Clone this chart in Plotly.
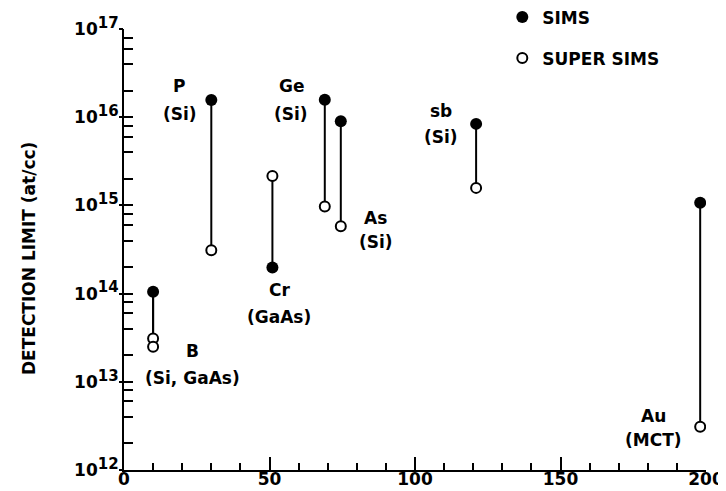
import math
import plotly.graph_objects as go

# ---- data ----
elements = ["B", "P", "Cr", "Ge", "As", "Sb", "Au"]
mass = [10, 30, 51, 69, 74.5, 121, 198]
sims = [1.05e14, 1.57e16, 1.98e14, 1.58e16, 9.0e15, 8.4e15, 1.07e15]

super_mass = [10, 10, 30, 51, 69, 74.5, 121, 198]
super_sims = [3.1e13, 2.5e13, 3.1e14, 2.15e15, 9.7e14, 5.8e14, 1.58e15, 3.1e12]

x_ticks = [0, 50, 100, 150, 200]
x_minor_step = 10
y_decades = [12, 13, 14, 15, 16, 17]
y_minor_mult = [2, 4, 6, 8]

# label text lines and their placements (layout, data coords; y in log10)
label_lines = [
    ("P", 18.9, 16.35), ("(Si)", 19.3, 16.033),
    ("Ge", 57.4, 16.35), ("(Si)", 57.4, 16.033),
    ("As", 86.3, 14.86), ("(Si)", 86.6, 14.59),
    ("Cr", 53.3, 14.037), ("(GaAs)", 53.3, 13.731),
    ("B", 23.7, 13.346), ("(Si, GaAs)", 23.7, 13.04),
    ("sb", 108.9, 16.07), ("(Si)", 108.9, 15.772),
    ("Au", 181.8, 12.61), ("(MCT)", 181.8, 12.34),
]

FONT = "DejaVu Sans"
BOLD = dict(family=FONT, size=17, color="black", weight="bold")
fig = go.Figure()

# connecting lines
lx, ly = [], []
for sx, sy in zip(super_mass, super_sims):
    i = mass.index(sx)
    lx += [mass[i], sx, None]
    ly += [sims[i], sy, None]
fig.add_trace(go.Scatter(x=lx, y=ly, mode="lines",
                         line=dict(color="black", width=2),
                         showlegend=False, hoverinfo="skip"))

fig.add_trace(go.Scatter(x=mass, y=sims, mode="markers", name="SIMS",
                         legendgroup="a",
                         marker=dict(symbol="circle", size=12, color="black",
                                     line=dict(color="black", width=0))))
fig.add_trace(go.Scatter(x=super_mass, y=super_sims, mode="markers",
                         name="SUPER SIMS", legendgroup="b",
                         marker=dict(symbol="circle", size=10, color="white",
                                     line=dict(color="black", width=2))))
# carrier for the overlay axes that draw the longer major ticks
fig.add_trace(go.Scatter(x=[None], y=[None], xaxis="x2", yaxis="y2",
                         showlegend=False, hoverinfo="skip"))

for txt, xx, yy in label_lines:
    fig.add_annotation(x=xx, y=yy, text=txt, showarrow=False,
                       xanchor="center", yanchor="middle", font=BOLD)

fig.add_annotation(xref="paper", yref="paper", x=-0.162, y=0.48,
                   text="DETECTION LIMIT (at/cc)", textangle=-90,
                   showarrow=False, xanchor="center", yanchor="middle",
                   font=BOLD)

x_all = list(range(x_ticks[0], x_ticks[-1] + 1, x_minor_step))
y_all = [10 ** y_decades[-1]] + [m * 10 ** d for d in y_decades[:-1]
                                 for m in [1] + y_minor_mult]


def ylab(v):
    e = math.log10(v)
    if abs(e - round(e)) < 1e-9:
        return "10<sup><span style='font-size:15px'>%d</span></sup>" % round(e)
    return ""


fig.update_layout(
    width=726, height=491,
    margin=dict(l=116, r=28, t=21, b=29, autoexpand=False),
    paper_bgcolor="white", plot_bgcolor="white",
    font=BOLD,
    showlegend=True,
    legend=dict(x=0.65, y=1.067, xanchor="left", yanchor="top",
                bgcolor="rgba(0,0,0,0)", traceorder="grouped",
                tracegroupgap=16, font=BOLD),
    xaxis=dict(range=[0, 200], showgrid=False, zeroline=False,
               showline=True, linecolor="black", linewidth=2,
               ticks="inside", ticklen=7, tickwidth=2, tickcolor="black",
               tickvals=x_all,
               ticktext=[str(v) if v in x_ticks else "" for v in x_all],
               tickfont=BOLD, automargin=False, ticklabelstandoff=-7),
    xaxis2=dict(range=[0, 200], overlaying="x", anchor="y", side="bottom",
                showgrid=False, zeroline=False, showline=False,
                ticks="inside", ticklen=13, tickwidth=2, tickcolor="black",
                tickvals=x_ticks, showticklabels=False, automargin=False),
    yaxis=dict(type="log", range=[12, 17], showgrid=False, zeroline=False,
               showline=True, linecolor="black", linewidth=2,
               ticks="inside", ticklen=9, tickwidth=2, tickcolor="black",
               tickvals=y_all, ticktext=[ylab(v) for v in y_all],
               tickfont=BOLD, automargin=False),
    yaxis2=dict(type="log", range=[12, 17], overlaying="y", anchor="x",
                side="left", showgrid=False, zeroline=False, showline=False,
                ticks="outside", ticklen=4, tickwidth=2, tickcolor="black",
                tickvals=[10 ** d for d in y_decades], showticklabels=False,
                automargin=False),
)

fig.write_html("out.html")
